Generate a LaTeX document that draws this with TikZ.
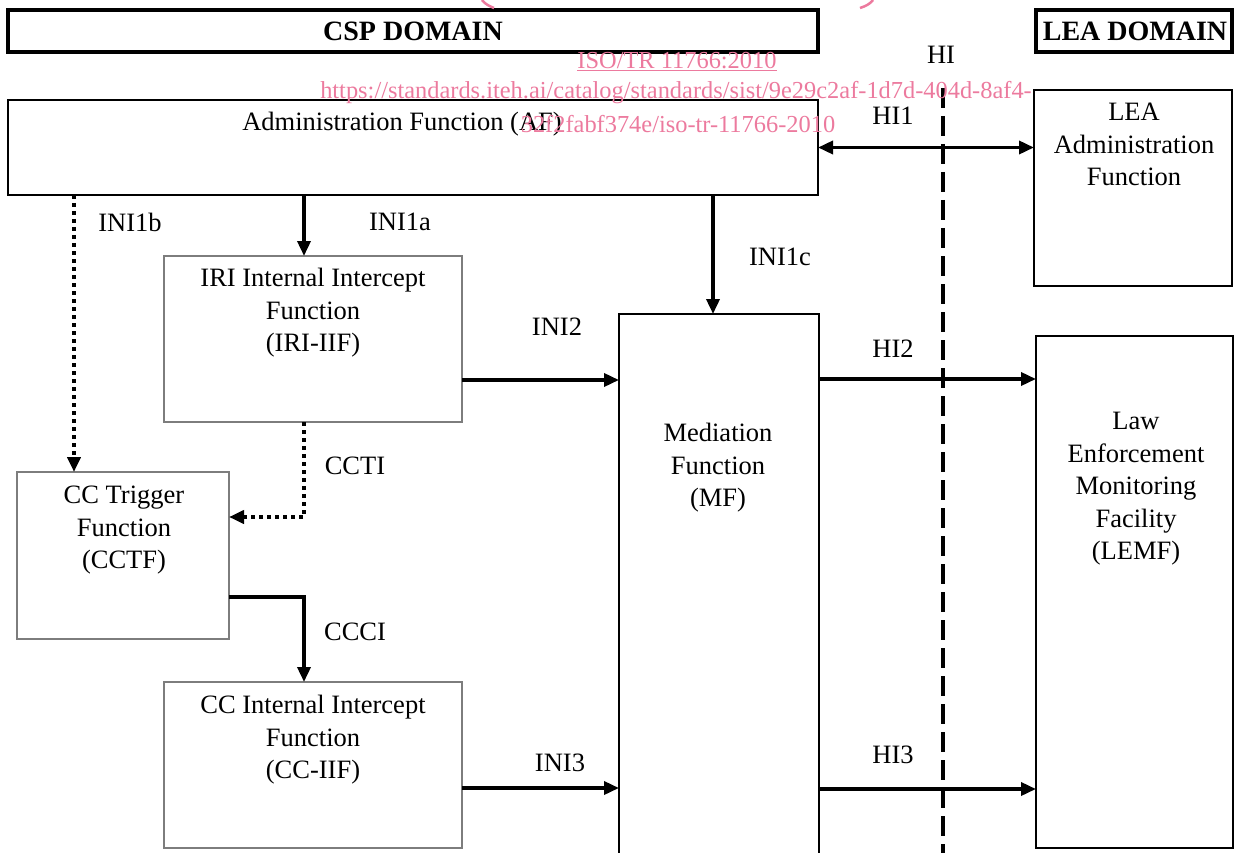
\documentclass[tikz,border=0pt]{standalone}
\usepackage{fontspec}
\setmainfont{Liberation Serif}
\usetikzlibrary{arrows.meta,calc}
\definecolor{wm}{RGB}{236,122,158}
\definecolor{gbox}{RGB}{125,125,125}
\tikzset{
  txt/.style={font=\fontsize{26.5}{32.5}\selectfont, align=center, inner sep=0pt},
  bold/.style={font=\fontsize{28}{32.5}\selectfont\bfseries, inner sep=0pt},
  wmtxt/.style={font=\fontsize{24.4}{28}\selectfont, text=wm, inner sep=0pt},
  domainbox/.style={draw, line width=4.5pt, anchor=north west, inner sep=0pt, outer sep=0pt},
  blackbox/.style={draw, line width=2.6pt, anchor=north west, inner sep=0pt, outer sep=0pt},
  graybox/.style={draw=gbox, line width=1.4pt, anchor=north west, inner sep=0pt, outer sep=0pt},
  conn/.style={line width=3.5pt, -{Triangle[length=15pt,width=13pt]}},
  dconn/.style={line width=3.5pt, <->, >={Triangle[length=15pt,width=13pt]}},
  dotconn/.style={line width=4pt, dash pattern=on 4pt off 4pt, -{Triangle[length=15pt,width=13pt]}},
  hiline/.style={line width=4pt, dash pattern=on 20pt off 8pt},
}
\begin{document}
\begin{tikzpicture}[x=1pt,y=-1pt]
\useasboundingbox (0,0) rectangle (1234,853);
\clip (0,0) rectangle (1234,853);

% domain headers
\node[domainbox, minimum width=810pt, minimum height=42pt] (csp) at (8,10) {};
\node[domainbox, minimum width=196pt, minimum height=42pt] (leadom) at (1036,10) {};
\node[bold] (csptxt) at (413,31) {CSP DOMAIN};
\node[bold] (leadomtxt) at (1135,31) {LEA DOMAIN};

% boxes
\node[blackbox, minimum width=810pt, minimum height=95pt] (af) at (8,100) {};
\node[blackbox, minimum width=198pt, minimum height=196pt] (leaadm) at (1034,90) {};
\node[graybox, minimum width=298pt, minimum height=166pt] (iri) at (164,256) {};
\node[blackbox, minimum width=200pt, minimum height=541pt] (mf) at (619,314) {};
\node[blackbox, minimum width=197pt, minimum height=512pt] (lemf) at (1036,336) {};
\node[graybox, minimum width=212pt, minimum height=167pt] (cctf) at (17,472) {};
\node[graybox, minimum width=298pt, minimum height=166pt] (cciif) at (164,682) {};

% HI dashed boundary
\coordinate (hitop) at (943,88);
\coordinate (hibot) at (943,860);
\draw[hiline] (hitop) -- (hibot);

% connectors
\draw[dconn] (af.east) -- (leaadm.west |- af.east);

\coordinate (b1) at ([xshift=57pt]cctf.north west);
\draw[dotconn] (af.south -| b1) -- (b1);

\coordinate (a1) at ([xshift=140pt]iri.north west);
\draw[conn] (af.south -| a1) -- (a1);

\coordinate (c1) at ([xshift=94pt]mf.north west);
\draw[conn] (af.south -| c1) -- (c1);

\coordinate (i2) at ([yshift=-124pt]iri.north east);
\draw[conn] (i2) -- (mf.west |- i2);

\coordinate (h2) at ([yshift=-65pt]mf.north east);
\draw[conn] (h2) -- (lemf.west |- h2);

\coordinate (h3) at ([yshift=-475pt]mf.north east);
\draw[conn] (h3) -- (lemf.west |- h3);

\coordinate (i3) at ([yshift=-106pt]cciif.north east);
\draw[conn] (i3) -- (mf.west |- i3);

\coordinate (t1) at ([xshift=140pt]iri.south west);
\coordinate (t2) at ([yshift=-45pt]cctf.north east);
\draw[dotconn] (t1) |- (t2);

\coordinate (k1) at ([yshift=-125pt]cctf.north east);
\coordinate (k2) at ([xshift=140pt]cciif.north west);
\draw[conn] (k1) -| (k2);

% texts
\node[txt] (hitxt) at (941,55) {HI};
\node[txt] (aftxt) at (402,124) {Administration Function (AF)};
\node[txt] (hi1) at (893,116) {HI1};
\node[txt, anchor=north] (leaadmtxt) at (1134,103) {LEA\\Administration\\Function};
\node[txt] (ini1b) at (130,222) {INI1b};
\node[txt] (ini1a) at (400,222) {INI1a};
\node[txt] (ini1c) at (780,257) {INI1c};
\node[txt, anchor=north] (iritxt) at (313,268) {IRI Internal Intercept\\Function\\(IRI-IIF)};
\node[txt] (ini2) at (557,327) {INI2};
\node[txt] (hi2) at (893,349) {HI2};
\node[txt, anchor=north] (mftxt) at (718,423) {Mediation\\Function\\(MF)};
\node[txt, anchor=north] (lemftxt) at (1136,412) {Law\\Enforcement\\Monitoring\\Facility\\(LEMF)};
\node[txt] (ccti) at (355,466) {CCTI};
\node[txt, anchor=north] (cctftxt) at (124,486) {CC Trigger\\Function\\(CCTF)};
\node[txt] (ccci) at (355,632) {CCCI};
\node[txt, anchor=north] (cciiftxt) at (313,695) {CC Internal Intercept\\Function\\(CC-IIF)};
\node[txt] (ini3) at (560,763) {INI3};
\node[txt] (hi3) at (893,755) {HI3};

% watermark
\node[wmtxt] (wm1) at (677,62) {\underline{ISO/TR 11766:2010}};
\node[wmtxt] (wm2) at (676,93) {https://standards.iteh.ai/catalog/standards/sist/9e29c2af-1d7d-404d-8af4-};
\node[wmtxt] (wm3) at (678,124) {32f2fabf374e/iso-tr-11766-2010};
\draw[wm, line width=2.5pt] (482,0) .. controls (485,4) and (489,6) .. (494,8);
\draw[wm, line width=2.5pt] (873,0) .. controls (870,4) and (866,6) .. (860,8);
\end{tikzpicture}
\end{document}
